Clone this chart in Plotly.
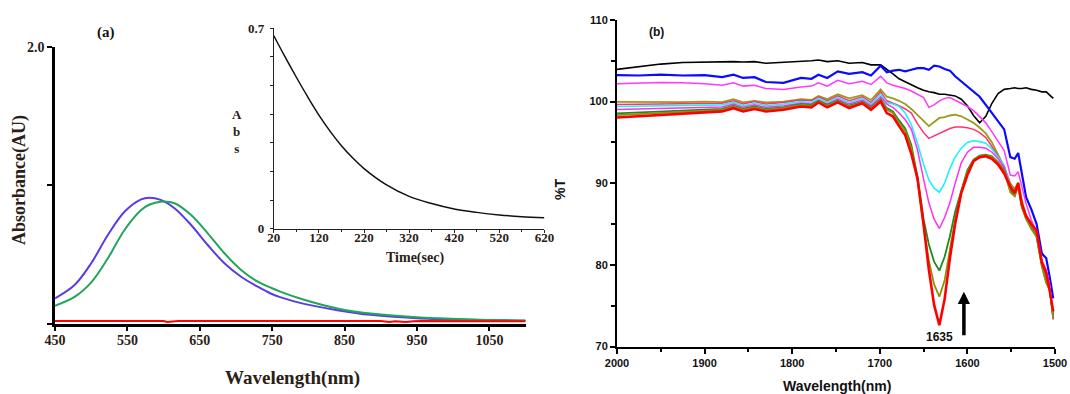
import plotly.graph_objects as go

W, H = 1070, 394

# ---------------- Panel (a) main: absorbance spectra ----------------
wl_a = [450, 477, 500, 523, 546, 569, 580, 596, 615, 638, 661, 684, 707, 730,
        748, 762, 794, 840, 886, 955, 1024, 1100]
abs_blue = [0.185, 0.281, 0.438, 0.642, 0.810, 0.899, 0.911, 0.895, 0.835, 0.714,
            0.570, 0.438, 0.341, 0.269, 0.220, 0.192, 0.145, 0.100, 0.066, 0.040,
            0.030, 0.024]
abs_green = [0.132, 0.195, 0.300, 0.474, 0.678, 0.822, 0.860, 0.882, 0.871, 0.786,
             0.654, 0.510, 0.390, 0.305, 0.262, 0.232, 0.175, 0.112, 0.075, 0.046,
             0.033, 0.026]
wl_red = [450, 600, 605, 612, 620, 900, 912, 920, 935, 945, 955, 1100]
abs_red = [0.022, 0.022, 0.014, 0.020, 0.022, 0.022, 0.014, 0.020, 0.014, 0.020, 0.022, 0.020]

# ---------------- Panel (a) inset: kinetics ----------------
time_s = [20, 45, 70, 95, 120, 145, 170, 195, 220, 270, 320, 370, 420, 470, 520, 570, 620]
abs_t = [0.674, 0.600, 0.529, 0.461, 0.397, 0.340, 0.290, 0.247, 0.210, 0.153,
         0.113, 0.088, 0.069, 0.057, 0.048, 0.042, 0.038]

# ---------------- Panel (b): %T spectra ----------------
wn = [2000, 1975, 1950, 1925, 1900, 1880, 1867, 1856, 1843, 1830, 1810, 1790, 1778,
      1770, 1760, 1748, 1735, 1720, 1710, 1699,
      1692, 1685, 1678, 1671, 1664, 1657, 1650, 1644, 1638, 1632, 1626, 1620, 1614,
      1607, 1600, 1593, 1586, 1579, 1572, 1565, 1558, 1551, 1546, 1542, 1538, 1533,
      1527, 1521, 1515, 1510, 1506, 1502]

t_black = [103.95, 104.3, 104.6, 104.8, 104.85, 104.9, 104.9, 104.85, 104.9, 104.7,
           104.8, 104.9, 105.0, 105.1, 104.9, 105.0, 104.7, 104.8, 104.5, 104.5,
           104.0, 103.4, 102.8, 102.4, 102.0, 101.7, 101.4, 101.2, 101.1, 100.9,
           100.9, 100.8, 100.7, 100.3, 99.5, 98.3, 97.4, 98.2, 99.8, 101.0, 101.5,
           101.6, 101.7, 101.6, 101.6, 101.7, 101.5, 101.4, 101.2, 101.2, 100.8, 100.4]
t_blue = [103.25, 103.2, 103.3, 103.2, 103.25, 103.0, 103.3, 102.9, 103.0, 102.4,
          102.3, 102.9, 102.8, 103.3, 102.9, 103.7, 103.4, 103.6, 103.2, 104.4,
          103.6, 103.8, 103.9, 103.7, 103.9, 104.1, 104.1, 103.9, 104.4, 104.3,
          104.0, 103.8, 103.1, 102.5, 101.9, 101.3, 100.6, 99.6, 98.6, 97.6, 96.6,
          93.2, 93.0, 93.7, 91.4, 88.3, 86.8, 85.0, 81.4, 80.8, 78.5, 75.9]
t_mag1 = [102.2, 102.3, 102.35, 102.3, 102.2, 102.0, 102.3, 101.9, 102.0, 101.6,
          101.5, 101.8, 101.9, 102.3, 101.9, 102.6, 102.2, 102.5, 102.1, 103.1,
          102.3, 102.0, 101.8, 101.6, 101.3, 100.9, 100.5, 99.3, 99.6, 100.1,
          100.4, 100.5, 100.2, 99.8, 99.4, 98.9, 98.2, 97.4, 96.3, 95.2, 94.0,
          91.0, 90.9, 91.4, 89.5, 87.5, 85.5, 84.0, 80.5, 79.2, 77.0, 73.9]
t_olive1 = [99.98, 99.95, 100.0, 99.95, 100.0, 99.95, 100.3, 99.9, 100.1, 99.9,
            100.0, 100.3, 100.2, 100.7, 100.3, 100.9, 100.4, 100.8, 100.2, 101.5,
            100.6, 100.4, 100.1, 99.7, 99.1, 98.4, 97.7, 97.0, 97.5, 98.0,
            98.1, 98.3, 98.4, 98.2, 97.8, 97.4, 96.8, 96.1, 95.0, 93.5, 92.0,
            90.0, 89.3, 90.1, 88.0, 86.0, 84.8, 83.8, 80.2, 78.3, 77.2, 73.4]
t_pink = [99.65, 99.7, 99.75, 99.75, 99.8, 99.8, 100.1, 99.7, 100.0, 99.7,
          99.9, 100.2, 100.1, 100.6, 100.1, 100.7, 100.1, 100.6, 99.9, 101.2,
          100.1, 99.8, 99.5, 99.1, 98.6, 97.3, 96.2, 95.5, 95.8, 96.1,
          96.4, 96.7, 96.9, 96.9, 96.8, 96.6, 96.2, 95.6, 94.5, 93.2, 92.0,
          89.6, 89.0, 90.0, 87.6, 85.9, 84.7, 83.7, 80.4, 79.0, 77.3, 73.6]
t_cyan = [99.4, 99.45, 99.5, 99.5, 99.55, 99.6, 99.9, 99.5, 99.8, 99.5,
          99.7, 100.0, 99.9, 100.4, 99.9, 100.5, 99.9, 100.4, 99.7, 100.9,
          99.9, 99.7, 99.4, 98.6, 97.2, 94.9, 92.3, 90.4, 89.4, 88.9,
          90.0, 91.8, 93.2, 94.3, 95.0, 95.2, 95.1, 94.9, 94.2, 93.2, 92.2,
          89.4, 88.8, 89.9, 87.4, 85.8, 84.6, 83.6, 80.0, 78.6, 77.3, 73.5]
t_mag2 = [99.04, 99.1, 99.2, 99.25, 99.3, 99.35, 99.7, 99.3, 99.6, 99.3,
          99.5, 99.8, 99.7, 100.2, 99.7, 100.3, 99.7, 100.2, 99.5, 100.6,
          99.7, 99.3, 98.6, 97.8, 96.6, 94.1, 90.5, 87.6, 85.6, 84.45,
          85.8, 87.6, 90.0, 92.5, 93.8, 94.4, 94.4, 94.3, 93.8, 93.0, 92.0,
          89.3, 88.7, 89.8, 87.5, 85.8, 84.6, 83.7, 80.5, 79.4, 77.5, 73.3]
t_green = [98.55, 98.65, 98.8, 98.9, 99.0, 99.1, 99.5, 99.1, 99.4, 99.1,
           99.3, 99.7, 99.6, 100.1, 99.6, 100.1, 99.5, 100.0, 99.3, 100.3,
           99.2, 98.8, 97.7, 96.7, 94.7, 90.8, 85.6, 82.5, 80.4, 79.3,
           81.0, 83.5, 86.5, 89.2, 91.6, 92.9, 93.4, 93.5, 93.3, 92.6, 91.6,
           89.1, 88.5, 89.7, 87.2, 85.7, 84.5, 83.5, 79.9, 77.9, 77.0, 73.6]
t_olive2 = [98.35, 98.5, 98.65, 98.75, 98.85, 99.0, 99.4, 99.0, 99.3, 99.0,
            99.2, 99.6, 99.5, 100.0, 99.5, 100.0, 99.4, 99.9, 99.2, 100.2,
            99.0, 98.6, 97.4, 96.4, 94.3, 90.4, 84.8, 80.5, 77.6, 76.1,
            78.1, 81.8, 85.6, 89.0, 91.4, 92.8, 93.3, 93.4, 93.2, 92.5, 91.5,
            88.9, 88.4, 89.6, 87.1, 85.6, 84.4, 83.4, 79.8, 77.8, 76.9, 73.4]
t_red = [98.06, 98.2, 98.4, 98.5, 98.6, 98.8, 99.2, 98.8, 99.1, 98.8,
         99.0, 99.4, 99.3, 99.9, 99.3, 99.9, 99.2, 99.8, 99.0, 100.0,
         98.6, 98.2, 97.0, 95.9, 93.6, 90.6, 84.9, 79.4, 75.1, 72.6,
         75.8, 80.8, 85.0, 88.8, 91.0, 92.7, 93.2, 93.3, 93.0, 92.3, 91.2,
         89.6, 88.8, 90.0, 87.5, 86.0, 85.0, 84.2, 80.3, 79.0, 76.8, 74.3]

series_b = [
    ("black", t_black, "#000000", 1.6),
    ("blue", t_blue, "#0a0aff", 2.2),
    ("magenta 1", t_mag1, "#ff38ff", 1.5),
    ("olive 1", t_olive1, "#9c9a1e", 1.8),
    ("pink", t_pink, "#ff3370", 1.5),
    ("cyan", t_cyan, "#1ef0ff", 1.6),
    ("magenta 2", t_mag2, "#ff30f0", 1.5),
    ("green", t_green, "#1f8a1f", 1.8),
    ("olive 2", t_olive2, "#8f8f10", 1.8),
    ("red", t_red, "#ff0000", 2.6),
]

fig = go.Figure()

# Panel (a) main
fig.add_trace(go.Scatter(x=wl_a, y=abs_blue, mode="lines",
                         line=dict(color="#5a3ce6", width=2, shape="spline", smoothing=1.0),
                         xaxis="x", yaxis="y", showlegend=False))
fig.add_trace(go.Scatter(x=wl_a, y=abs_green, mode="lines",
                         line=dict(color="#22a55a", width=2, shape="spline", smoothing=1.0),
                         xaxis="x", yaxis="y", showlegend=False))
fig.add_trace(go.Scatter(x=wl_red, y=abs_red, mode="lines", line=dict(color="#ff0000", width=2),
                         xaxis="x", yaxis="y", showlegend=False))

# Panel (a) inset
fig.add_trace(go.Scatter(x=time_s, y=abs_t, mode="lines",
                         line=dict(color="#111111", width=1.5, shape="spline", smoothing=1.0),
                         xaxis="x2", yaxis="y2", showlegend=False))

# Panel (b)
for name, vals, col, lw in series_b:
    fig.add_trace(go.Scatter(x=wn, y=vals, mode="lines", name=name, line=dict(color=col, width=lw),
                             xaxis="x3", yaxis="y3", showlegend=False))

def px_x(p):
    return p / W

def px_y(p):
    return 1 - p / H

serif = "Liberation Serif, Times New Roman, serif"
sans = "Liberation Sans, Arial, sans-serif"
tcol = "#2a2016"

fig.update_layout(
    width=W, height=H, autosize=False,
    margin=dict(l=0, r=0, t=0, b=0, autoexpand=False),
    paper_bgcolor="white", plot_bgcolor="rgba(0,0,0,0)",
    xaxis=dict(domain=[px_x(55), px_x(525.6)], range=[450, 1100], anchor="y", automargin=False,
               tickvals=[450, 550, 650, 750, 850, 950, 1050],
               showline=True, linecolor="black", linewidth=2.5, mirror=False,
               ticks="outside", ticklen=4, tickwidth=2, tickcolor="black",
               ticklabelstandoff=-3,
               showgrid=False, zeroline=False,
               tickfont=dict(family=serif, size=14, color=tcol, weight="bold")),
    yaxis=dict(domain=[px_y(324), px_y(46.7)], range=[0, 2.0], anchor="x", automargin=False,
               tickvals=[0, 1, 2], ticktext=["", "", "2.0"],
               showline=True, linecolor="black", linewidth=2.5,
               ticks="outside", ticklen=5, tickwidth=2, tickcolor="black",
               showgrid=False, zeroline=False,
               tickfont=dict(family=serif, size=14, color=tcol, weight="bold")),
    xaxis2=dict(domain=[px_x(273.8), px_x(544.4)], range=[20, 620], anchor="y2", automargin=False,
                tick0=20, dtick=100,
                showline=True, linecolor="#222", linewidth=1,
                ticks="outside", ticklen=3, tickwidth=1, tickcolor="#222",
                minor=dict(tick0=20, dtick=50, ticks="outside", ticklen=2, tickcolor="#222"),
                ticklabelstandoff=-6,
                showgrid=False, zeroline=False,
                tickfont=dict(family=serif, size=13, color=tcol, weight="bold")),
    yaxis2=dict(domain=[px_y(228.7), px_y(28.3)], range=[0, 0.7], anchor="x2", automargin=False,
                tickvals=[0, 0.1, 0.2, 0.3, 0.4, 0.5, 0.6, 0.7],
                ticktext=["0", "", "", "", "", "", "", "0.7"],
                showline=True, linecolor="#222", linewidth=1,
                ticks="outside", ticklen=3, tickwidth=1, tickcolor="#222",
                ticklabelstandoff=3,
                showgrid=False, zeroline=False,
                tickfont=dict(family=serif, size=13, color=tcol, weight="bold")),
    xaxis3=dict(domain=[px_x(617), px_x(1055)], range=[2000, 1500], anchor="y3", automargin=False,
                tick0=1500, dtick=100,
                showline=True, linecolor="black", linewidth=2,
                ticks="outside", ticklen=5, tickwidth=2, tickcolor="black",
                minor=dict(dtick=50, ticks="outside", ticklen=3, tickwidth=2, tickcolor="black"),
                showgrid=False, zeroline=False,
                tickfont=dict(family=sans, size=11, color="#111", weight="bold")),
    yaxis3=dict(domain=[px_y(346.5), px_y(20)], range=[70, 110], anchor="x3", automargin=False,
                tick0=70, dtick=10,
                showline=True, linecolor="black", linewidth=2,
                ticks="outside", ticklen=5, tickwidth=2, tickcolor="black",
                minor=dict(dtick=5, ticks="outside", ticklen=4, tickwidth=2, tickcolor="black"),
                showgrid=False, zeroline=False,
                tickfont=dict(family=sans, size=11, color="#111", weight="bold")),
)

ann = []
ann.append(dict(text="Absorbance(AU)", x=px_x(19), y=px_y(180), xref="paper", yref="paper",
                textangle=-90, showarrow=False, xanchor="center", yanchor="middle",
                font=dict(family=serif, size=18, color=tcol, weight="bold")))
ann.append(dict(text="Wavelength(nm)", x=px_x(292), y=px_y(378), xref="paper", yref="paper",
                showarrow=False, xanchor="center", yanchor="middle",
                font=dict(family=serif, size=19, color=tcol, weight="bold")))
ann.append(dict(text="(a)", x=px_x(106), y=px_y(32), xref="paper", yref="paper",
                showarrow=False, xanchor="center", yanchor="middle",
                font=dict(family=serif, size=15, color="#111", weight="bold")))
ann.append(dict(text="A<br>b<br>s", x=px_x(237), y=px_y(131), xref="paper", yref="paper",
                showarrow=False, xanchor="center", yanchor="middle",
                font=dict(family=serif, size=13, color=tcol, weight="bold")))
ann.append(dict(text="Time(sec)", x=px_x(415), y=px_y(258), xref="paper", yref="paper",
                showarrow=False, xanchor="center", yanchor="middle",
                font=dict(family=serif, size=14, color=tcol, weight="bold")))
ann.append(dict(text="%T", x=px_x(560), y=px_y(190), xref="paper", yref="paper",
                textangle=-90, showarrow=False, xanchor="center", yanchor="middle",
                font=dict(family=sans, size=14, color="#111", weight="bold")))
ann.append(dict(text="Wavelength(nm)", x=px_x(837), y=px_y(386), xref="paper", yref="paper",
                showarrow=False, xanchor="center", yanchor="middle",
                font=dict(family=sans, size=14, color="#111", weight="bold")))
ann.append(dict(text="(b)", x=px_x(656), y=px_y(32), xref="paper", yref="paper",
                showarrow=False, xanchor="center", yanchor="middle",
                font=dict(family=sans, size=12, color="#111", weight="bold")))
ann.append(dict(text="1635", x=1632, y=71.2, xref="x3", yref="y3",
                showarrow=False, xanchor="center", yanchor="middle",
                font=dict(family=sans, size=12, color="#111", weight="bold")))
ann.append(dict(text="", x=1604, y=76.7, xref="x3", yref="y3",
                ax=1604, ay=71.2, axref="x3", ayref="y3",
                showarrow=True, arrowhead=2, arrowsize=0.7, arrowwidth=3.5, arrowcolor="black"))
fig.update_layout(annotations=ann)

fig.write_html("out.html",
               config={"displayModeBar": False},
               post_script="document.body.style.margin='0';document.body.style.overflow='hidden';")
